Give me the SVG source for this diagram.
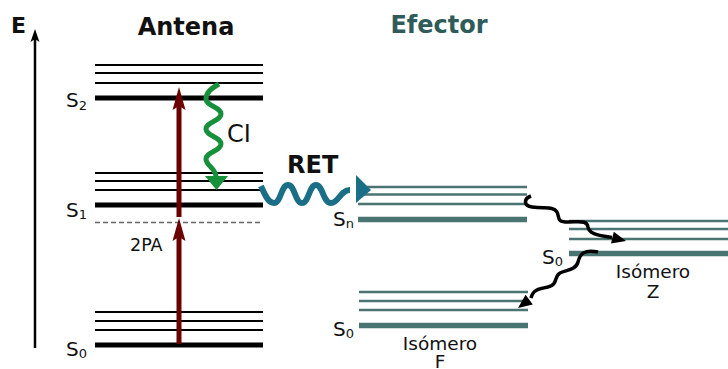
<svg xmlns="http://www.w3.org/2000/svg" width="728" height="369" viewBox="0 0 728 369">
<defs>
<style>
text{font-family:"DejaVu Sans","Liberation Sans",sans-serif;fill:#111}
.ttl{font-weight:bold;font-size:24px}
.lbl{font-size:20px}
.sub{font-size:13px}
.iso{font-size:18.5px}
.thin{stroke:#000;stroke-width:2.2}
.thick{stroke:#000;stroke-width:5}
.ethin{stroke:#4a7472;stroke-width:2.6}
.ethick{stroke:#4a7472;stroke-width:5.5}
</style>
</defs>
<rect width="728" height="369" fill="#fff"/>

<g id="axis">
<line x1="35" y1="348" x2="35" y2="36" stroke="#000" stroke-width="2.5"/>
<path d="M35,29 L39.5,42 L35,39 L30.5,42 Z" fill="#000"/>
<text x="11" y="33" class="ttl" style="font-size:22px">E</text>
</g>

<g id="antena">
<text x="186" y="35" class="ttl" text-anchor="middle">Antena</text>
<g id="antena-S2">
<line x1="95" y1="65" x2="263" y2="65" class="thin"/>
<line x1="95" y1="73" x2="263" y2="73" class="thin"/>
<line x1="95" y1="83" x2="263" y2="83" class="thin"/>
<line x1="95" y1="98" x2="263" y2="98" class="thick"/>
<text x="66" y="107" class="lbl">S<tspan class="sub" dy="3">2</tspan></text>
</g>
<g id="antena-S1">
<line x1="95" y1="173" x2="263" y2="173" class="thin"/>
<line x1="95" y1="181" x2="263" y2="181" class="thin"/>
<line x1="95" y1="190" x2="263" y2="190" class="thin"/>
<line x1="95" y1="205" x2="263" y2="205" class="thick"/>
<text x="66" y="217" class="lbl">S<tspan class="sub" dy="2">1</tspan></text>
</g>
<g id="virtual">
<line x1="95" y1="222.5" x2="263" y2="222.5" stroke="#666" stroke-width="1.5" stroke-dasharray="5,3"/>
<text x="130" y="251" style="font-size:17.5px">2PA</text>
</g>
<g id="antena-S0">
<line x1="95" y1="312" x2="263" y2="312" class="thin"/>
<line x1="95" y1="321" x2="263" y2="321" class="thin"/>
<line x1="95" y1="330" x2="263" y2="330" class="thin"/>
<line x1="95" y1="345" x2="263" y2="345" class="thick"/>
<text x="66" y="356" class="lbl">S<tspan class="sub" dy="2">0</tspan></text>
</g>
</g>

<g id="efector">
<text x="439" y="33" class="ttl" text-anchor="middle" style="fill:#2f5c5a">Efector</text>
<g id="efector-Sn">
<line x1="358" y1="187" x2="527" y2="187" class="ethin"/>
<line x1="358" y1="194.5" x2="527" y2="194.5" class="ethin"/>
<line x1="358" y1="204" x2="527" y2="204" class="ethin"/>
<line x1="358" y1="219.5" x2="527" y2="219.5" class="ethick"/>
<text x="333" y="226" class="lbl">S<tspan class="sub" dy="2">n</tspan></text>
</g>
<g id="isomero-Z">
<line x1="569" y1="221" x2="728" y2="221" class="ethin"/>
<line x1="569" y1="229" x2="728" y2="229" class="ethin"/>
<line x1="569" y1="239" x2="728" y2="239" class="ethin"/>
<line x1="569" y1="253.5" x2="728" y2="253.5" class="ethick"/>
<text x="542" y="264" class="lbl">S<tspan class="sub" dy="2">0</tspan></text>
<text x="653" y="278" class="iso" text-anchor="middle">Isómero</text>
<text x="653" y="298" class="iso" text-anchor="middle">Z</text>
</g>
<g id="isomero-F">
<line x1="359" y1="292" x2="528" y2="292" class="ethin"/>
<line x1="359" y1="301" x2="528" y2="301" class="ethin"/>
<line x1="359" y1="310" x2="528" y2="310" class="ethin"/>
<line x1="359" y1="325.5" x2="528" y2="325.5" class="ethick"/>
<text x="333" y="336" class="lbl">S<tspan class="sub" dy="2">0</tspan></text>
<text x="440" y="350" class="iso" text-anchor="middle">Isómero</text>
<text x="440" y="368" class="iso" text-anchor="middle">F</text>
</g>
</g>

<g id="connectors">
<g id="excitation" fill="#6b0000">
<line x1="179" y1="344" x2="179" y2="236" stroke="#6b0000" stroke-width="5"/>
<path d="M179,218 L185.5,241 L179,237 L172.5,241 Z"/>
<line x1="179" y1="217" x2="179" y2="105" stroke="#6b0000" stroke-width="5"/>
<path d="M179,87 L185.5,110 L179,106 L172.5,110 Z"/>
</g>
<g id="CI">
<path d="M219,84 C212,88 206,92 206,99 C206,106 221,107 221,114 C221,121 206,122 206,129 C206,136 221,137 221,144 C221,151 206,152 206,159 C206,166 216,168 216,177" fill="none" stroke="#16903a" stroke-width="5"/>
<path d="M205,176 L228,176 L216.5,190 Z" fill="#16903a"/>
<text x="227" y="142" style="font-size:24px">CI</text>
</g>
<g id="RET">
<path d="M261,186 C265,195 268,203 274,203 C281,203 281,185 288,185 C295,185 295,203 302,203 C309,203 309,185 316,185 C323,185 323,203 331,203 C339,203 340,190 350,190" fill="none" stroke="#1a6f87" stroke-width="6"/>
<path d="M356,175 L371,190 L356,203 Z" fill="#1a6f87"/>
<text x="287" y="173" class="ttl">RET</text>
</g>
<g id="relax1">
<path d="M531,196 C523,199 524,206 532,207 C545,209 553,206 557,212 C560,218 556,222 568,222 C580,222 587,220 588,227 C589,233 595,235 612,237.5" fill="none" stroke="#000" stroke-width="3.5"/>
<path d="M626,241 L613.8,231.8 L611,243.4 Z" fill="#000"/>
</g>
<g id="relax2">
<path d="M598,252 C584,249 580,254 578,262 C576,270 566,270 560,273 C554,276 558,285 548,287 C538,289 533,290 531,298" fill="none" stroke="#000" stroke-width="3.5"/>
<path d="M518,308 L532.8,304.4 L525.6,294.8 Z" fill="#000"/>
</g>
</g>
</svg>
